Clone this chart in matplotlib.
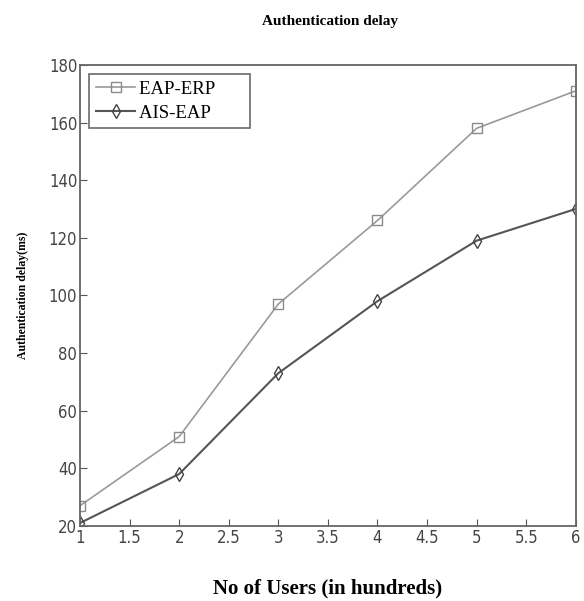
import matplotlib
matplotlib.use("Agg")
import matplotlib.pyplot as plt

users = [1, 2, 3, 4, 5, 6]
eap_erp = [27, 51, 97, 126, 158, 171]
ais_eap = [21, 38, 73, 98, 119, 130]

fig = plt.figure(figsize=(5.84, 6.01), dpi=100)
ax = fig.add_axes([0.137, 0.125, 0.849, 0.767])

ax.plot(users, eap_erp, color="#9a9a9a", marker="s", markersize=7,
        markerfacecolor="none", markeredgecolor="#8a8a8a", linewidth=1.2,
        label="EAP-ERP      ")
ax.plot(users, ais_eap, color="#555555", marker="d", markersize=7.5,
        markerfacecolor="none", markeredgecolor="#444444", linewidth=1.5,
        label="AIS-EAP      ")

ax.set_xlim(1, 6)
ax.set_ylim(20, 180)
ax.set_xticks([1, 1.5, 2, 2.5, 3, 3.5, 4, 4.5, 5, 5.5, 6])
ax.set_xticklabels(["1", "1.5", "2", "2.5", "3", "3.5", "4", "4.5", "5", "5.5", "6"])
ax.set_yticks(range(20, 181, 20))
ax.tick_params(direction="in", length=5, color="#555555", labelcolor="#444444",
               labelsize=12, top=False, right=False, pad=2)
for lab in ax.get_xticklabels() + ax.get_yticklabels():
    lab.set_family("DejaVu Sans")
    lab.set_stretch("condensed")
for s in ax.spines.values():
    s.set_color("#666666")
    s.set_linewidth(1.3)

leg = ax.legend(loc="upper left", frameon=True, fancybox=False,
                prop={"family": "Liberation Serif", "size": 13.5}, handlelength=2.1,
                handletextpad=0.2, borderaxespad=0.5, labelspacing=0.35,
                borderpad=0.35, edgecolor="#444444")
leg.get_frame().set_linewidth(1.2)

fig.text(0.565, 0.965, "Authentication delay", ha="center", va="center",
         family="Liberation Serif", weight="bold", fontsize=11)
ax.set_xlabel("No of Users (in hundreds)", family="Liberation Serif",
              weight="bold", fontsize=15, labelpad=23)
ax.set_ylabel("Authentication delay(ms)", family="Liberation Serif",
              weight="bold", fontsize=8.5, labelpad=14)

fig.savefig("out.png", dpi=100)
